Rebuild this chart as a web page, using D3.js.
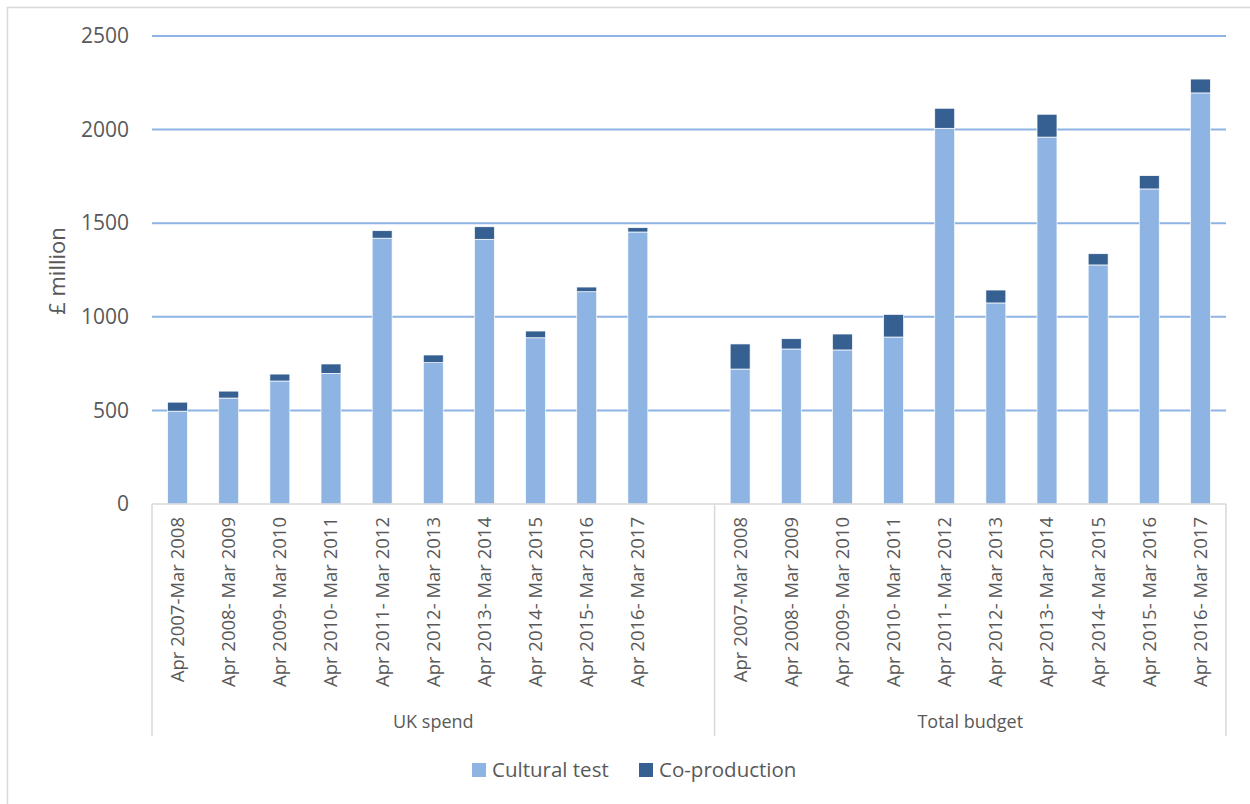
<!DOCTYPE html>
<html>
<head>
<meta charset="utf-8">
<script src="https://cdn.jsdelivr.net/npm/d3@7"></script>
<style>
  body { margin: 0; background: #fff; }
  text { font-family: "Open Sans", sans-serif; fill: #595959; }
</style>
</head>
<body>
<div class="chart"></div>
<script>
const periods = ["Apr 2007-Mar 2008", "Apr 2008- Mar 2009", "Apr 2009- Mar 2010", "Apr 2010- Mar 2011",
  "Apr 2011- Mar 2012", "Apr 2012- Mar 2013", "Apr 2013- Mar 2014", "Apr 2014- Mar 2015",
  "Apr 2015- Mar 2016", "Apr 2016- Mar 2017"]
const groups = ["UK spend", "Total budget"]
const seriesNames = ["Cultural test", "Co-production"]
const ukCultural = [496, 566, 657, 698, 1420, 755, 1414, 888, 1134, 1453]
const ukCoproduction = [48, 37, 37, 50, 40, 41, 67, 36, 25, 23]
const totalCultural = [721, 828, 823, 892, 2007, 1074, 1960, 1277, 1683, 2196]
const totalCoproduction = [134, 55, 85, 121, 107, 69, 122, 60, 71, 74]
const yTicks = [0, 500, 1000, 1500, 2000, 2500]

const W = 1250, H = 804
const plot = ({left: 152, right: 1226, top: 36, bottom: 504})
const colors = { "Cultural test": "#8EB4E3", "Co-production": "#366092" }

// one blank slot after UK spend, the way the source sheet lays it out
let rows = []
periods.forEach((p, i) => rows.push({ key: "uk" + i, period: p, group: groups[0], "Cultural test": ukCultural[i], "Co-production": ukCoproduction[i] }))
rows.push({ key: "gap", period: "", group: groups[0], "Cultural test": 0, "Co-production": 0 })
periods.forEach((p, i) => rows.push({ key: "tot" + i, period: p, group: groups[1], "Cultural test": totalCultural[i], "Co-production": totalCoproduction[i] }))

const x = d3.scaleBand()
  .domain(rows.map(d => d.key))
  .range([plot.left, plot.right])
  .paddingInner(0.61)
  .paddingOuter(0.305)

const step = x.step()

const y = d3.scaleLinear()
  .domain([0, 2500])
  .range([plot.bottom, plot.top])

const svg = d3.select('.chart').append('svg')
  .attr('width', W)
  .attr('height', H)

// chart frame
svg.append('rect')
  .attr('x', 7.5).attr('y', 7.5)
  .attr('width', W + 10).attr('height', H + 10)
  .attr('fill', 'none')
  .attr('stroke', '#d9d9d9')
  .attr('stroke-width', 1.5)

// gridlines
svg.append('g')
  .selectAll('line')
  .data(yTicks.filter(t => t > 0))
  .join('line')
  .attr('x1', plot.left).attr('x2', plot.right)
  .attr('y1', d => y(d)).attr('y2', d => y(d))
  .attr('stroke', '#8EB4E3')
  .attr('stroke-width', 2)

// y axis labels
const yAxis = d3.axisLeft(y)
  .tickValues(yTicks)
  .tickFormat(d3.format('d'))
  .tickSize(0)
  .tickPadding(23)

svg.append('g')
  .attr('class', 'axis y-axis')
  .attr('transform', `translate(${plot.left},0)`)
  .call(yAxis)
  .call(g => g.select('.domain').remove())
  .selectAll('text')
  .attr('font-size', 21)
  .attr('font-family', '"Open Sans", sans-serif')
  .attr('fill', '#595959')

svg.append('text')
  .attr('transform', 'translate(57,271) rotate(-90)')
  .attr('text-anchor', 'middle')
  .attr('dy', '0.35em')
  .attr('font-size', 22)
  .text('£ million')

// stacked bars
const stack = d3.stack().keys(seriesNames)
const layers = stack(rows.filter(d => d.key != "gap"))

svg.append('g')
  .selectAll('g')
  .data(layers)
  .join('g')
  .attr('fill', d => colors[d.key])
  .selectAll('rect')
  .data(d => d)
  .join('rect')
  .attr('x', d => x(d.data.key))
  .attr('width', x.bandwidth())
  .attr('y', d => y(d[1]))
  .attr('height', d => y(d[0]) - y(d[1]))
  .attr('stroke', '#fff')
  .attr('stroke-width', 0.7)

// category axis
const axisCol = '#d9d9d9'
svg.append('line')
  .attr('x1', plot.left).attr('x2', plot.right)
  .attr('y1', plot.bottom).attr('y2', plot.bottom)
  .attr('stroke', axisCol).attr('stroke-width', 1.5)

const sepX = [plot.left, x("gap") - (step - x.bandwidth()) / 2 + step, plot.right]
svg.append('g')
  .selectAll('line')
  .data(sepX)
  .join('line')
  .attr('x1', d => d).attr('x2', d => d)
  .attr('y1', plot.bottom).attr('y2', 736)
  .attr('stroke', axisCol).attr('stroke-width', 1.5)

svg.append('g')
  .selectAll('text')
  .data(rows.filter(d => d.period != ""))
  .join('text')
  .attr('transform', d => `translate(${x(d.key) + x.bandwidth() / 2},517) rotate(-90)`)
  .attr('text-anchor', 'end')
  .attr('dy', '0.35em')
  .attr('font-size', 18.5)
  .text(d => d.period)

svg.append('g')
  .selectAll('text')
  .data(groups)
  .join('text')
  .attr('x', (d, i) => (sepX[i] + sepX[i + 1]) / 2)
  .attr('y', 728)
  .attr('text-anchor', 'middle')
  .attr('font-size', 18)
  .text(d => d)

// legend
const legendX = [472, 639]
const legend = svg.append('g')
  .selectAll('g')
  .data(seriesNames)
  .join('g')
  .attr('transform', (d, i) => `translate(${legendX[i]},763)`)

legend.append('rect')
  .attr('width', 14).attr('height', 14)
  .attr('fill', d => colors[d])

legend.append('text')
  .attr('x', 20)
  .attr('y', 7)
  .attr('dy', '0.35em')
  .attr('font-size', 20.5)
  .text(d => d)
</script>
</body>
</html>
